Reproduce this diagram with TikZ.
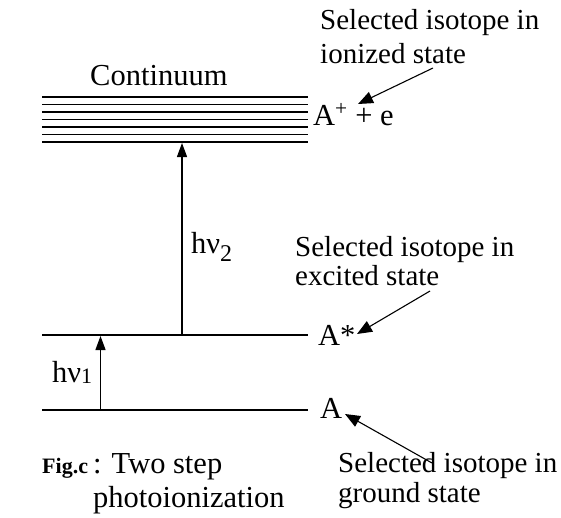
\documentclass[tikz,border=0pt]{standalone}
\usepackage{fontspec}
\setmainfont{Liberation Serif}
\usetikzlibrary{arrows.meta}
\tikzset{
  level/.style={line width=1.4pt},
  photon/.style={line width=1.3pt,-{Triangle[length=14pt,width=10pt]}},
  pointer/.style={line width=1.1pt,-{Triangle[length=15pt,width=12pt]}},
  txt/.style={inner sep=0pt,anchor=base west,font=\fontsize{30.5}{32}\selectfont},
  notetxt/.style={inner sep=0pt,anchor=base west,font=\fontsize{29}{31}\selectfont}
}
\begin{document}
\begin{tikzpicture}[x=1pt,y=-1pt]
\useasboundingbox (0,0) rectangle (561,517);
% continuum band
\foreach \yy/\w in {97/1.9,104.5/1.2,112/1.9,119.5/1.9,127/1.2,134.5/1.9,142/1.2}
  \draw[line width=\w pt] (42,\yy) -- (308,\yy);
\node[txt] (cont) at (90,85) {Continuum};
\node[txt] (ion) at (313,125) {A\textsuperscript{+} + e};
% excited and ground levels
\coordinate (exL) at (42,335);
\coordinate (exR) at (308,335);
\coordinate (grL) at (42,410);
\coordinate (grR) at (308,410);
\draw[level] (exL) -- (exR);
\draw[level] (grL) -- (grR);
\node[txt] (astar) at (318,345) {A*};
\node[txt] (aground) at (320,418) {A};
% photon steps
\coordinate (s1a) at (100.5,410);
\coordinate (s1b) at (100.5,336);
\coordinate (s2a) at (182,335);
\coordinate (s2b) at (182,143);
\draw[photon] (s1a) -- (s1b);
\draw[photon] (s2a) -- (s2b);
\node[txt] (hv1) at (52,382) {hν\raisebox{-1pt}{\fontsize{22}{22}\selectfont 1}};
\node[txt] (hv2) at (191,253) {hν\raisebox{-8pt}{\fontsize{24}{24}\selectfont 2}};
% annotations
\node[notetxt] (nion1) at (320,29) {Selected isotope in};
\node[notetxt] (nion2) at (320,63) {ionized state};
\node[notetxt] (nex1) at (295,256) {Selected isotope in};
\node[notetxt] (nex2) at (295,285) {excited state};
\node[notetxt] (ngr1) at (338,472) {Selected isotope in};
\node[notetxt] (ngr2) at (338,502) {ground state};
\coordinate (pion) at (433,68);
\coordinate (tion) at (358,104);
\coordinate (pex) at (430,291);
\coordinate (tex) at (357,334);
\coordinate (pgr) at (432,463);
\coordinate (tgr) at (345,414);
\draw[pointer] (pion) -- (tion);
\draw[pointer] (pex) -- (tex);
\draw[pointer] (pgr) -- (tgr);
% caption
\node[txt] (cap1) at (42,473) {{\bfseries\fontsize{22}{24}\selectfont Fig.c}\,: Two step};
\node[txt] (cap2) at (93,507) {photoionization};
\end{tikzpicture}
\end{document}
